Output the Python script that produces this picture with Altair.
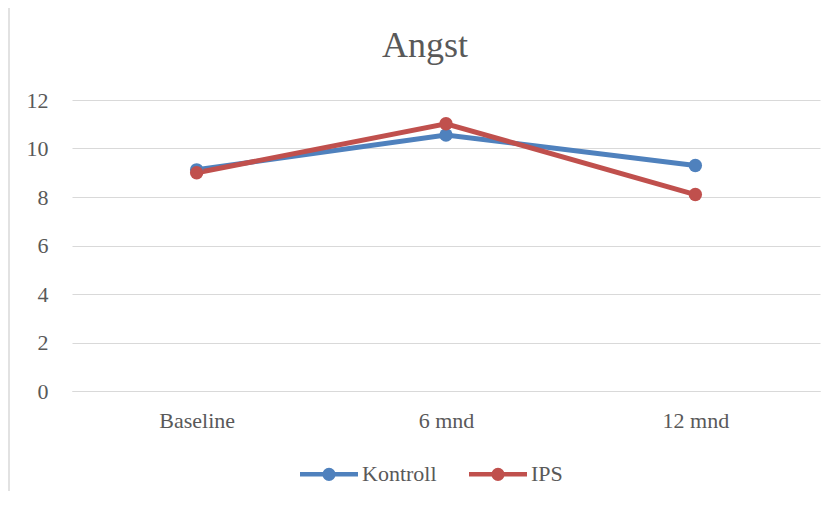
import altair as alt
import pandas as pd

categories = ["Baseline", "6 mnd", "12 mnd"]
kontroll = [9.12, 10.56, 9.3]
ips = [9.0, 11.02, 8.1]
series_names = ["Kontroll", "IPS"]
colors = ["#4f81bd", "#c0504d"]

rows = []
for name, vals in zip(series_names, [kontroll, ips]):
    for c, v in zip(categories, vals):
        rows.append({"Tid": c, "Verdi": v, "Serie": name})
df = pd.DataFrame(rows)

FONT = "Liberation Serif"
TXT = "#595959"
GRID = "#d9d9d9"

legend_path = (
    "M-2,0L2,0"
    "M-0.3,0a0.3,0.3 0 1,0 0.6,0a0.3,0.3 0 1,0 -0.6,0"
    "M-0.15,0a0.15,0.15 0 1,0 0.3,0a0.15,0.15 0 1,0 -0.3,0"
    "M-0.03,0a0.03,0.03 0 1,0 0.06,0a0.03,0.03 0 1,0 -0.06,0"
)

x = alt.X("Tid:N", sort=categories, title=None,
          scale=alt.Scale(type="point", padding=0.5),
          axis=alt.Axis(labelAngle=0, labelFont=FONT, labelFontSize=22,
                        labelColor=TXT, ticks=False, domainColor=GRID,
                        domainWidth=1, labelPadding=19, grid=False))
y = alt.Y("Verdi:Q", title=None,
          scale=alt.Scale(domain=[0, 12], nice=False),
          axis=alt.Axis(values=[0, 2, 4, 6, 8, 10, 12], labelFont=FONT,
                        labelFontSize=22, labelColor=TXT, ticks=False,
                        domain=False, gridColor=GRID, gridWidth=1,
                        labelPadding=24))
color = alt.Color("Serie:N", sort=series_names,
                  scale=alt.Scale(domain=series_names, range=colors),
                  legend=alt.Legend(title=None, orient="none", direction="horizontal",
                                    legendX=240, legendY=357,
                                    symbolType=legend_path, symbolSize=841,
                                    symbolStrokeWidth=4.5, symbolFillColor="transparent",
                                    labelFont=FONT, labelFontSize=22, labelColor=TXT,
                                    labelOffset=16, columnPadding=23))

lines = alt.Chart(df).mark_line(strokeWidth=5).encode(x=x, y=y, color=color)
points = alt.Chart(df).mark_point(filled=True, size=180, opacity=1).encode(
    x=x, y=y, color=alt.Color("Serie:N", sort=series_names,
                              scale=alt.Scale(domain=series_names, range=colors),
                              legend=None))

border = alt.Chart(pd.DataFrame({"a": [0]})).mark_rule(color="#d9d9d9", strokeWidth=1.5).encode(
    x=alt.value(-63), y=alt.value(-92), y2=alt.value(406))

chart = alt.layer(border, lines, points).properties(
    width=748, height=291,
    padding={"left": 64, "top": 92, "right": 5, "bottom": 100},
    autosize=alt.AutoSizeParams(type="none"),
    title=alt.TitleParams("Angst", font=FONT, fontSize=36, color=TXT,
                          fontWeight="normal", anchor="middle", frame="group",
                          baseline="alphabetic", dx=-21, offset=-86),
).configure_view(stroke=None)

chart.save("out.html", embed_options={"renderer": "svg", "actions": False})
